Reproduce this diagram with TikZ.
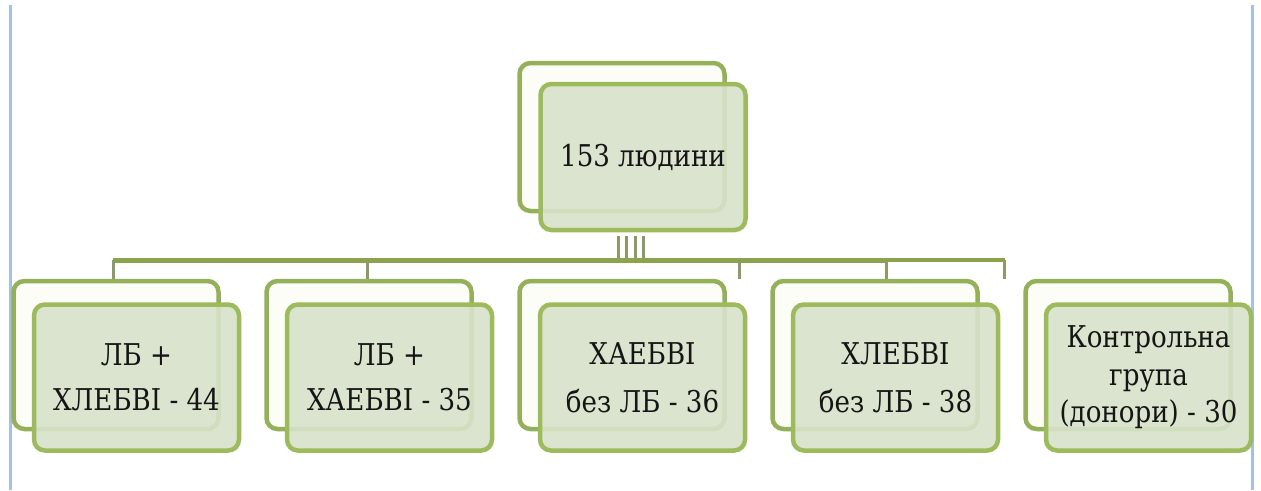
\documentclass[tikz,border=0pt]{standalone}
\usepackage{fontspec}
\setmainfont{DejaVu Serif}
\newfontfamily\tnr{DejaVu Serif}[FakeStretch=0.87]
\definecolor{bord}{HTML}{9DBB5C}
\definecolor{bordB}{HTML}{95B05A}
\definecolor{frontfill}{HTML}{D8E2CA}
\definecolor{backfill}{HTML}{FCFDF7}
\definecolor{barcol}{HTML}{8CA34E}
\definecolor{stemcol}{HTML}{8A9B68}
\definecolor{bluel}{HTML}{A6BFE2}
\definecolor{txt}{HTML}{151515}
\begin{document}
\begin{tikzpicture}[x=1pt,y=-1pt,
  backbox/.style={draw=bordB, line width=4.5pt, fill=backfill, rounded corners=11pt,
    minimum width=205pt, minimum height=148pt, inner sep=0pt},
  frontbox/.style={draw=bord, line width=4.5pt, fill=frontfill, fill opacity=0.9, text opacity=1,
    rounded corners=11pt, minimum width=205pt, minimum height=146pt, inner sep=2pt,
    align=center, text=txt, font=\tnr\fontsize{30}{37.5}\selectfont},
  barline/.style={draw=barcol, line width=5pt},
  stem/.style={draw=stemcol, line width=3pt},
  blueline/.style={draw=bluel, line width=3pt}]
\useasboundingbox (0,0) rectangle (1261,490);
\fill[white] (0,0) rectangle (1261,490);
% side rules
\draw[blueline] (10,5) -- (10,490);
\draw[blueline] (1252,5) -- (1252,490);
% positions
\coordinate (barL) at (113,260);
\coordinate (barR) at (1005,260);
\coordinate (d1) at (113,260);
\coordinate (d2) at (367,260);
\coordinate (d3) at (739,260);
\coordinate (d4) at (886,260);
\coordinate (d5) at (1004,260);
% back boxes
\node[backbox] (b0) at (622,137) {};
\node[backbox] (b1) at (116,355) {};
\node[backbox] (b2) at (369,355) {};
\node[backbox] (b3) at (622,355) {};
\node[backbox] (b4) at (875,355) {};
\node[backbox] (b5) at (1128,355) {};
% connectors
\foreach \dx in {-25,-17,-8,0}
  \draw[stem] ([xshift=\dx pt]643,236) -- ([xshift=\dx pt]643,260);
\draw[barline] (barL) -- (d4);
\draw[barcol, line width=3.5pt] (d4) -- (barR);
\draw[stem] (d1) -- (d1 |- b1.north);
\draw[stem] (d2) -- (d2 |- b2.north);
\draw[stem] (d3) -- (d3 |- b3.north);
\draw[stem] (d4) -- (d4 |- b4.north);
\draw[stem] (d5) -- (d5 |- b5.north);
% front boxes
\node[frontbox] (f0) at (643,157) {153 людини};
\node[frontbox] (f1) at (136.5,377.5) {ЛБ +\\[7.5pt]ХЛЕБВІ - 44};
\node[frontbox] (f2) at (389.5,377.5) {ЛБ +\\[7.5pt]ХАЕБВІ - 35};
\node[frontbox] (f3) at (642.5,377.5) {ХАЕБВІ\\[10.5pt]без ЛБ - 36};
\node[frontbox] (f4) at (895.5,377.5) {ХЛЕБВІ\\[10.5pt]без ЛБ - 38};
\node[frontbox] (f5) at (1148.5,377.5) {Контрольна\\група\\(донори) - 30};
\end{tikzpicture}
\end{document}
